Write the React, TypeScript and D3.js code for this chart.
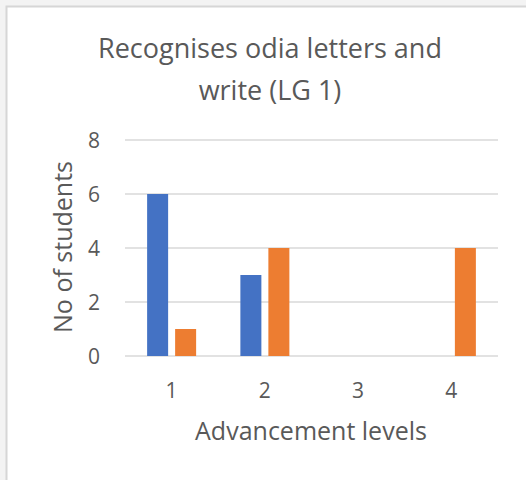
import React from "react";
import * as d3 from "d3";

const categories = ["1", "2", "3", "4"];
const seriesNames = ["Series1", "Series2"];
const series1 = [6, 3, 0, 0];
const series2 = [1, 4, 0, 4];
const yTicks = [0, 2, 4, 6, 8];
const titleLines = ["Recognises odia letters and", "write (LG 1)"];
const xTitle = "Advancement levels";
const yTitle = "No of students";

const colors = ["#4472C4", "#ED7D31"];
const textColor = "#595959";
const font = "'Open Sans', sans-serif";

export default function App() {
  const W = 526, H = 480;
  const left = 125, right = 498, top = 140, bottom = 356;
  const x = d3.scaleBand<string>().domain(categories).range([left, right]);
  const y = d3.scaleLinear().domain([0, 8]).range([bottom, top]);
  const groupW = 49;
  const inner = d3.scaleBand<string>().domain(seriesNames).range([0, groupW]).paddingInner(0.25);
  const data = [series1, series2];

  return (
    <svg width={W} height={H} style={{ position: "fixed", left: 0, top: 0 }} fontFamily={font}>
      <rect x={0} y={0} width={W} height={H} fill="#f3f3f3" />
      <rect x={6.5} y={6.5} width={W} height={H} fill="#ffffff" stroke="#d6d6d6" strokeWidth={2} />
      {titleLines.map((t, i) => (
        <text key={i} x={270} y={58 + i * 42} textAnchor="middle" fontSize={27} fill={textColor}>{t}</text>
      ))}
      {yTicks.map((v) => (
        <g key={v}>
          <line x1={left} x2={right} y1={y(v)} y2={y(v)} stroke="#d9d9d9" strokeWidth={1.3} />
          <text x={100} y={y(v)} dy="0.36em" textAnchor="end" fontSize={21} fill={textColor}>{v}</text>
        </g>
      ))}
      {categories.map((c, ci) => {
        const gx = (x(c) as number) + (x.bandwidth() - groupW) / 2;
        return (
          <g key={c}>
            {data.map((s, si) =>
              s[ci] > 0 ? (
                <rect key={si} x={gx + (inner(seriesNames[si]) as number)} y={y(s[ci])}
                  width={inner.bandwidth()} height={y(0) - y(s[ci])} fill={colors[si]} />
              ) : null
            )}
            <text x={(x(c) as number) + x.bandwidth() / 2} y={398} textAnchor="middle" fontSize={21} fill={textColor}>{c}</text>
          </g>
        );
      })}
      <text x={311} y={440} textAnchor="middle" fontSize={25} fill={textColor}>{xTitle}</text>
      <text transform="translate(72,247) rotate(-90)" textAnchor="middle" fontSize={25} fill={textColor}>{yTitle}</text>
    </svg>
  );
}
